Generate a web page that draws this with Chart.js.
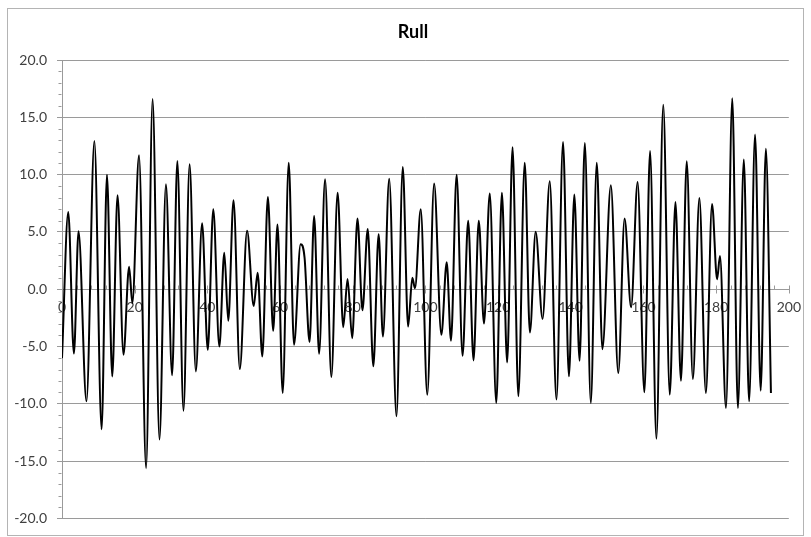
<!DOCTYPE html>
<html>
<head>
<meta charset="utf-8">
<script src="https://cdn.jsdelivr.net/npm/chart.js@4.4.0/dist/chart.umd.min.js"></script>
<style>
html,body{margin:0;padding:0;background:#fff;}
#wrap{width:811px;height:537px;position:relative;}
</style>
</head>
<body>
<div id="wrap"><canvas id="c" width="811" height="537"></canvas></div>
<script>
const chartTitle = "Rull";
// Turning points of the series (x position, value)
const xValues = [0,1.72,3.28,4.55,6.73,8.91,10.9,12.37,13.83,15.28,16.92,18.46,19.36,21.2,23.14,24.93,26.82,28.6,30.3,31.74,33.43,35.11,36.83,38.55,40.11,41.63,43.29,44.66,45.75,47.2,48.93,50.93,52.75,53.84,55.12,56.65,58.11,59.3,60.73,62.39,63.84,65.66,66.75,68.12,69.38,70.75,72.39,74.12,75.84,77.39,78.58,79.85,81.31,82.67,84.13,85.67,87.13,88.31,90.04,92.04,93.77,95.24,96.4,97.13,98.72,100.51,102.4,104.39,105.86,107.04,108.59,110.22,111.77,113.24,114.68,116.12,117.71,119.5,121.05,122.49,123.98,125.57,127.33,128.75,130.34,132.23,134.22,136.06,137.87,139.49,140.98,142.42,143.87,145.51,147.15,148.7,151.03,153.07,154.81,156.6,158.39,160.25,161.82,163.56,165.45,167.24,168.8,170.32,171.91,173.6,175.39,177.18,178.87,180.26,181.06,182.71,184.44,185.98,187.62,189.07,190.71,192.26,193.69,195.08];
const yValues = [-6.0,6.75,-5.6,5.07,-9.77,12.93,-12.2,10.0,-7.6,8.2,-5.7,1.97,-1.2,11.7,-15.6,16.6,-13.1,9.16,-7.5,11.2,-10.6,10.9,-7.16,5.77,-5.28,6.99,-4.99,3.19,-2.75,7.77,-6.96,5.1,-1.45,1.45,-5.86,8.06,-3.62,5.65,-9.04,11.04,-4.84,3.94,2.75,-4.6,6.4,-5.62,9.59,-7.65,8.43,-3.3,0.9,-4.26,6.17,-1.83,5.25,-6.72,4.81,-4.12,9.65,-11.07,10.67,-3.25,1.01,0.09,6.99,-9.19,9.22,-3.97,2.35,-4.49,10.0,-5.8,5.97,-6.2,5.97,-2.99,8.35,-9.91,8.43,-6.38,12.4,-9.33,11.04,-3.77,5.01,-2.58,9.42,-9.62,12.84,-7.59,8.26,-6.23,12.75,-9.91,11.04,-5.22,9.07,-7.3,6.17,-1.57,9.36,-8.99,12.06,-13.04,16.09,-9.19,7.62,-7.97,11.16,-7.83,7.97,-9.04,7.45,0.87,2.9,-10.35,16.67,-10.35,11.33,-9.77,13.5,-8.84,12.26,-9.04];
const xAxisRange = [0, 200];
const yAxisRange = [-20, 20];
const xMajorStep = 20, xMinorStep = 4;
const yMajorStep = 5, yMinorStep = 1;

const AXIS_GREY = '#9a9a9a';
const TEXT_GREY = '#404040';

const decorPlugin = {
  id: 'decor',
  beforeDraw(chart) {
    const ctx = chart.ctx;
    ctx.save();
    ctx.fillStyle = '#ffffff';
    ctx.fillRect(0, 0, chart.width, chart.height);
    ctx.strokeStyle = '#b4b4b4';
    ctx.lineWidth = 1;
    ctx.strokeRect(7.5, 8.5, 796, 527);
    ctx.fillStyle = '#000000';
    ctx.font = 'bold 18px Lato, "Open Sans", sans-serif';
    ctx.textAlign = 'center';
    ctx.textBaseline = 'alphabetic';
    ctx.fillText(chartTitle, 413, 38);
    ctx.restore();
  },
  beforeDatasetsDraw(chart) {
    const ctx = chart.ctx;
    const xs = chart.scales.x, ys = chart.scales.y;
    ctx.save();
    ctx.strokeStyle = AXIS_GREY;
    ctx.lineWidth = 1;
    ctx.beginPath();
    const left = Math.round(chart.chartArea.left) - 0.5;
    for (let v = yAxisRange[0]; v <= yAxisRange[1]; v += yMinorStep) {
      if (v % yMajorStep === 0) continue;
      const py = Math.round(ys.getPixelForValue(v)) + 0.5;
      ctx.moveTo(left - 3, py);
      ctx.lineTo(left, py);
    }
    const py0 = Math.round(ys.getPixelForValue(0)) + 0.5;
    for (let v = xAxisRange[0] + xMinorStep; v <= xAxisRange[1]; v += xMinorStep) {
      const px = Math.round(xs.getPixelForValue(v)) + 0.5;
      const major = v % xMajorStep === 0;
      ctx.moveTo(px, py0 - 4);
      ctx.lineTo(px, major ? py0 + 4 : py0);
    }
    ctx.stroke();
    ctx.restore();
  }
};

function draw() {
  const points = xValues.map((x, i) => ({x: x, y: yValues[i]}));
  const tickFont = {family: 'Lato, "Open Sans", sans-serif', size: 14};
  new Chart(document.getElementById('c'), {
    type: 'line',
    data: {
      datasets: [{
        label: chartTitle,
        data: points,
        borderColor: '#000000',
        borderWidth: 2,
        pointRadius: 0,
        fill: false,
        cubicInterpolationMode: 'monotone'
      }]
    },
    options: {
      responsive: false,
      animation: false,
      events: [],
      layout: {padding: {top: 60, bottom: 15, left: 0, right: 16}},
      plugins: {legend: {display: false}, title: {display: false}, tooltip: {enabled: false}},
      scales: {
        x: {
          type: 'linear',
          min: xAxisRange[0], max: xAxisRange[1],
          position: {y: 0},
          ticks: {stepSize: xMajorStep, color: TEXT_GREY, font: tickFont, padding: 10, maxRotation: 0, autoSkip: false},
          grid: {drawOnChartArea: false, drawTicks: false},
          border: {display: true, color: AXIS_GREY, width: 1}
        },
        y: {
          type: 'linear',
          min: yAxisRange[0], max: yAxisRange[1],
          ticks: {stepSize: yMajorStep, color: TEXT_GREY, font: tickFont, padding: 10, callback: v => Number(v).toFixed(1)},
          grid: {color: AXIS_GREY, lineWidth: 1, drawTicks: true, tickLength: 5, tickColor: AXIS_GREY},
          border: {display: true, color: AXIS_GREY, width: 1},
          afterFit(scale) { scale.width = 62; }
        }
      }
    },
    plugins: [decorPlugin]
  });
}

if (document.fonts && document.fonts.load) {
  Promise.all([
    document.fonts.load('bold 18px Lato'),
    document.fonts.load('14px Lato')
  ]).then(draw, draw);
} else {
  draw();
}
</script>
</body>
</html>
